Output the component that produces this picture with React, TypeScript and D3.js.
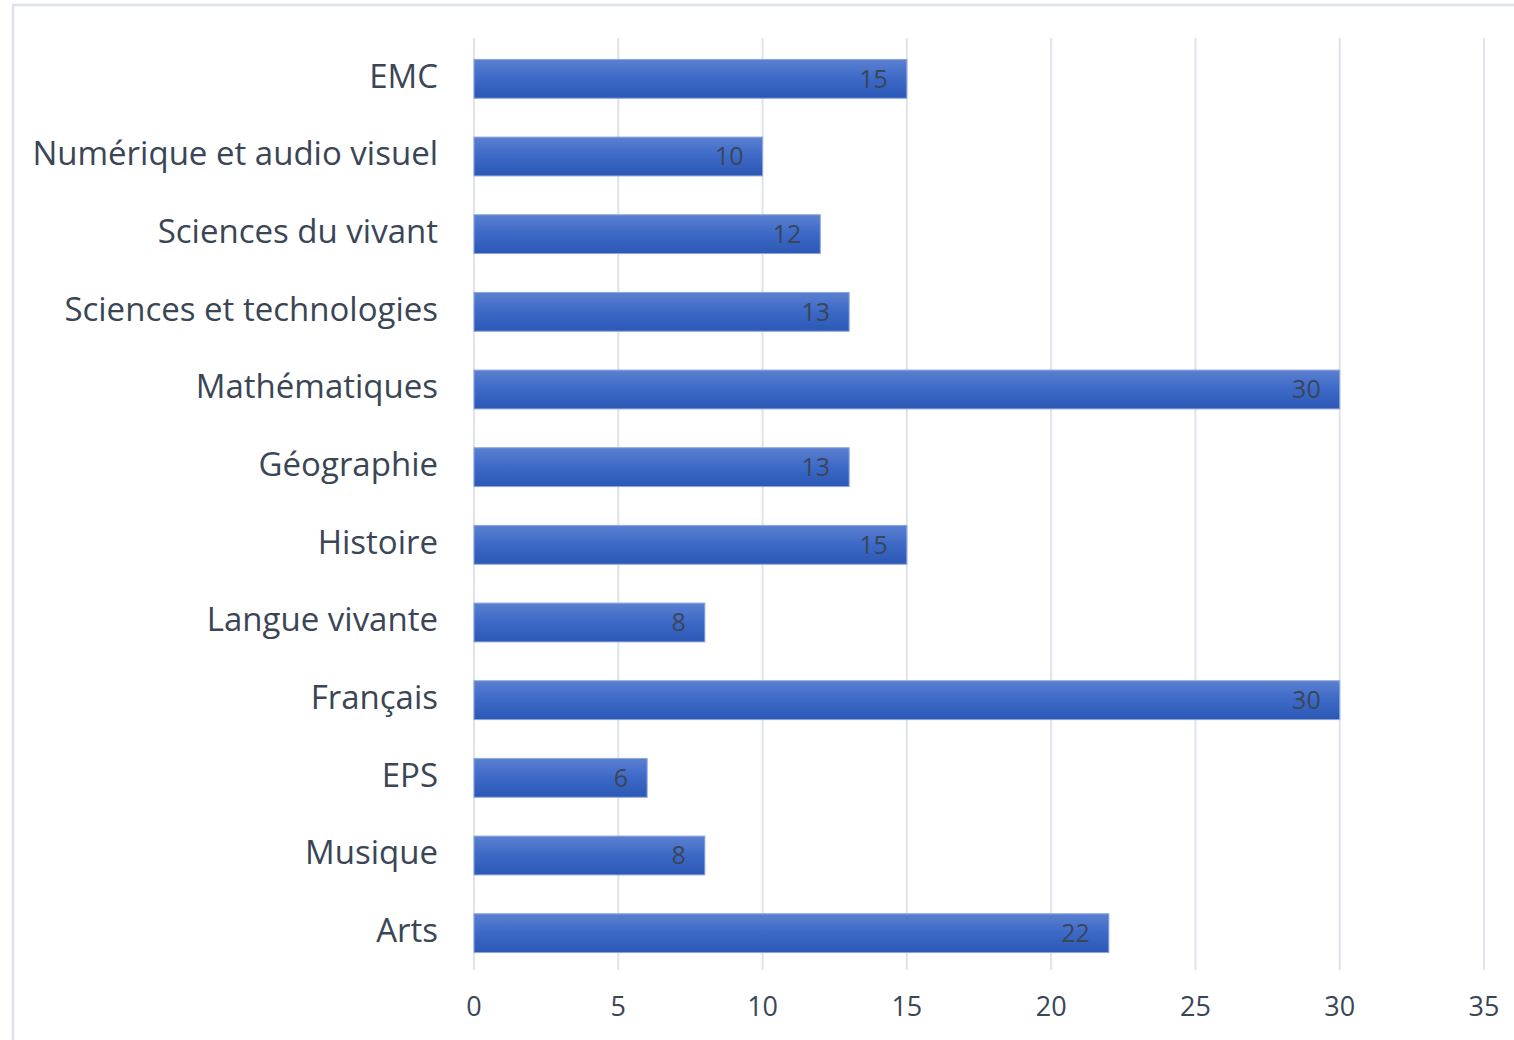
import React from "react";
import * as d3 from "d3";

const categories = [
  "EMC",
  "Numérique et audio visuel",
  "Sciences du vivant",
  "Sciences et technologies",
  "Mathématiques",
  "Géographie",
  "Histoire",
  "Langue vivante",
  "Français",
  "EPS",
  "Musique",
  "Arts",
];
const values = [15, 10, 12, 13, 30, 13, 15, 8, 30, 6, 8, 22];
const xTicks = [0, 5, 10, 15, 20, 25, 30, 35];

const W = 1514;
const H = 1040;
const FONT = "'Open Sans', Lato, sans-serif";

export default function App() {
  const x = d3.scaleLinear().domain([0, 35]).range([474, 1484]);
  const y = d3.scaleBand<string>().domain(categories).range([40, 972]).paddingInner(0.5).paddingOuter(0.25);

  return (
    <svg width={W} height={H} style={{ position: "absolute", left: 0, top: 0, background: "#fff" }}>
      <defs>
        <linearGradient id="barGrad" x1="0" y1="0" x2="0" y2="1">
          <stop offset="0" stopColor="#5b80d0" />
          <stop offset="0.45" stopColor="#3f6bc8" />
          <stop offset="1" stopColor="#2c58b5" />
        </linearGradient>
      </defs>
      <rect x={0} y={0} width={W} height={H} fill="#fff" />
      <rect x={13} y={5} width={W + 10} height={H + 10} fill="none" stroke="#dde2ec" strokeWidth={2.5} />
      {xTicks.map((t) => (
        <line key={t} x1={x(t)} x2={x(t)} y1={38} y2={970} stroke="#dfe3eb" strokeWidth={2} />
      ))}
      {categories.map((c, i) => {
        const y0 = y(c)!;
        const bw = y.bandwidth();
        return (
          <g key={c}>
            <rect x={x(0)} y={y0} width={x(values[i]) - x(0)} height={bw} fill="url(#barGrad)" stroke="#8ea6dc" strokeWidth={1} />
            <text x={x(values[i]) - 19} y={y0 + bw / 2 + 2} textAnchor="end" dominantBaseline="middle" fontFamily={FONT} fontSize={25} fill="#3a4558">
              {values[i]}
            </text>
            <text x={438} y={y0 + bw / 2} textAnchor="end" dominantBaseline="middle" fontFamily={FONT} fontSize={33} fontWeight={500} fill="#3a4656">
              {c}
            </text>
          </g>
        );
      })}
      {xTicks.map((t) => (
        <text key={t} x={x(t)} y={1009} textAnchor="middle" dominantBaseline="middle" fontFamily={FONT} fontSize={27} fontWeight={500} fill="#3a4656">
          {t}
        </text>
      ))}
    </svg>
  );
}
